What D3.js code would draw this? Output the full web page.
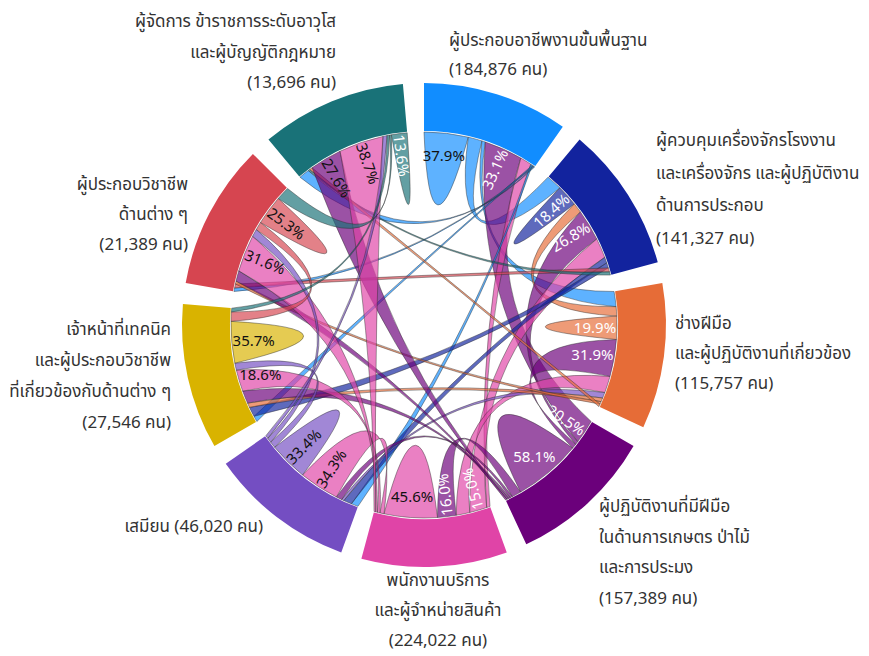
<!DOCTYPE html>
<html><head><meta charset="utf-8">
<script src="https://cdn.jsdelivr.net/npm/d3@7"></script>
<style>
body{margin:0;background:#fff;}
svg text{font-family:"Noto Sans Thai","Leelawadee UI","Tahoma","Noto Sans",sans-serif;}
</style></head><body>
<svg id="chart" width="869" height="656"></svg>
<script>
// ---------- DATA ----------
const groupNameLines = [
  ["ผู้ประกอบอาชีพงานขั้นพื้นฐาน"],
  ["ผู้ควบคุมเครื่องจักรโรงงาน", "และเครื่องจักร และผู้ปฏิบัติงาน", "ด้านการประกอบ"],
  ["ช่างฝีมือ", "และผู้ปฏิบัติงานที่เกี่ยวข้อง"],
  ["ผู้ปฏิบัติงานที่มีฝีมือ", "ในด้านการเกษตร ป่าไม้", "และการประมง"],
  ["พนักงานบริการ", "และผู้จำหน่ายสินค้า"],
  ["เสมียน"],
  ["เจ้าหน้าที่เทคนิค", "และผู้ประกอบวิชาชีพ", "ที่เกี่ยวข้องกับด้านต่าง ๆ"],
  ["ผู้ประกอบวิชาชีพ", "ด้านต่าง ๆ"],
  ["ผู้จัดการ ข้าราชการระดับอาวุโส", "และผู้บัญญัติกฎหมาย"]
];
const groupCounts = [184876, 141327, 115757, 157389, 224022, 46020, 27546, 21389, 13696];

// row-normalised shares (%) : order of columns = order of groups
const elementary    = [37.9, 12.0,  3.0, 33.1, 10.0,  1.5,  1.0,  0.8,  0.7];
const machineOps    = [13.5, 18.4,  8.5, 26.8, 17.0,  5.0,  4.5,  3.5,  2.8];
const craft         = [13.0,  8.0, 19.9, 31.9, 14.3,  5.0,  3.3,  2.3,  2.3];
const agriculture   = [20.5,  3.0,  4.0, 58.1,  8.0,  2.0,  1.5,  1.5,  1.4];
const service       = [ 3.0, 15.0, 11.7, 16.0, 45.6,  3.5,  2.2,  1.6,  1.4];
const clerks        = [ 6.0,  7.0,  2.0,  5.0, 34.3, 33.4,  5.5,  4.0,  2.8];
const technicians   = [ 5.0,  8.5,  4.0, 11.0, 18.6,  6.0, 35.7,  8.0,  3.2];
const professionals = [ 3.0,  3.5,  2.5,  9.0, 31.6,  6.5,  7.0, 25.3, 11.6];
const managers      = [ 9.0,  1.5,  2.5, 27.6, 38.7,  3.5,  2.0,  1.6, 13.6];
const matrix = [elementary, machineOps, craft, agriculture, service, clerks, technicians, professionals, managers];

// cells whose share is printed
const labeledCells = [[8,8],[8,4],[8,3],[0,0],[0,3],[1,1],[1,3],[2,2],[2,3],
                      [3,0],[3,3],[4,4],[4,3],[4,1],[5,5],[5,4],[6,6],[6,4],[7,7],[7,4]];

// ---------- STYLE / LAYOUT ----------
const groupColors = ["#118DFF","#12239E","#E66C37","#6B007B","#E044A7","#744EC2","#D9B300","#D64550","#197278"];
const whiteText = new Set(["8-8","0-3","1-1","1-3","2-2","2-3","3-0","3-3","4-3","4-1"]);
const labelLayout = [
  {x:449, y:41,  lh:29, anchor:"start"},
  {x:656, y:141, lh:32.5, anchor:"start"},
  {x:675, y:324, lh:30, anchor:"start"},
  {x:599, y:507, lh:30.5, anchor:"start"},
  {x:438, y:581, lh:30, anchor:"middle"},
  {x:263, y:527, lh:30, anchor:"end", inline:true},
  {x:171, y:330, lh:31, anchor:"end"},
  {x:188, y:185, lh:30, anchor:"end"},
  {x:336, y:22,  lh:30.5, anchor:"end"}
];
const cx = 424, cy = 325, outerR = 242, innerR = 194, ribR = 193, ctrlR = 50;
const pad = 5 * Math.PI / 180;

const svg = d3.select("#chart");
const g = svg.append("g").attr("transform", `translate(${cx},${cy})`);

const chords = d3.chord().padAngle(pad)(matrix);

function pt(a, r){ return [r*Math.sin(a), -r*Math.cos(a)]; }
function ctrl(a0, a1){
  let d = a1 - a0;
  while (d > Math.PI) d -= 2*Math.PI;
  while (d < -Math.PI) d += 2*Math.PI;
  return pt(a0 + d/2, ctrlR);
}
function ribbonPath(ch){
  const s = ch.source, t = ch.target, p = d3.path();
  const s0 = pt(s.startAngle, ribR);
  p.moveTo(s0[0], s0[1]);
  p.arc(0, 0, ribR, s.startAngle - Math.PI/2, s.endAngle - Math.PI/2);
  if (s.index === t.index) {
    const c = ctrl(s.endAngle, s.startAngle);
    p.quadraticCurveTo(c[0], c[1], s0[0], s0[1]);
  } else {
    const t0 = pt(t.startAngle, ribR);
    let c = ctrl(s.endAngle, t.startAngle);
    p.quadraticCurveTo(c[0], c[1], t0[0], t0[1]);
    p.arc(0, 0, ribR, t.startAngle - Math.PI/2, t.endAngle - Math.PI/2);
    c = ctrl(t.endAngle, s.startAngle);
    p.quadraticCurveTo(c[0], c[1], s0[0], s0[1]);
  }
  p.closePath();
  return p.toString();
}

// ribbons
g.append("g").selectAll("path").data(chords).join("path")
  .attr("d", ribbonPath)
  .attr("fill", d => groupColors[d.target.index])
  .attr("fill-opacity", 0.68)
  .attr("stroke", "#2b2b2b")
  .attr("stroke-opacity", 0.55)
  .attr("stroke-width", 0.8);

// group arcs
const arc = d3.arc().innerRadius(innerR).outerRadius(outerR);
g.append("g").selectAll("path").data(chords.groups).join("path")
  .attr("d", arc)
  .attr("fill", d => groupColors[d.index]);

// subgroup lookup: source end belongs to (source.index -> target.index)
const sub = {};
chords.forEach(c => {
  sub[c.source.index + "-" + c.target.index] = c.source;
  sub[c.target.index + "-" + c.source.index] = c.target;
});
const fmt = d3.format(".1f");
const pg = g.append("g");
labeledCells.forEach(([i, j]) => {
  const sg = sub[i + "-" + j];
  if (!sg) return;
  const a = (sg.startAngle + sg.endAngle) / 2;
  const deg = a * 180 / Math.PI;
  const [x, y] = pt(a, 171);
  let rot;
  if (Math.abs(Math.sin(a)) > 0.95 || (i === j && matrix[i][j] > 35)) rot = 0;
  else { rot = deg - 90; if (deg > 155) rot -= 180; }
  pg.append("text")
    .attr("transform", `translate(${x},${y}) rotate(${rot})`)
    .attr("text-anchor", "middle")
    .attr("dominant-baseline", "central")
    .attr("font-size", 15)
    .style("font-family", '"Segoe UI","Noto Sans",sans-serif')
    .attr("fill", whiteText.has(i + "-" + j) ? "#fff" : "#111")
    .text(fmt(matrix[i][j]) + "%");
});

// group labels
const cfmt = d3.format(",");
groupNameLines.forEach((lines, i) => {
  const L = labelLayout[i];
  const countTxt = "(" + cfmt(groupCounts[i]) + " คน)";
  const all = L.inline ? [lines.join(" ") + " " + countTxt] : lines.concat([countTxt]);
  const t = svg.append("text")
    .attr("text-anchor", L.anchor)
    .attr("font-size", 17)
    .attr("fill", "#333");
  all.forEach((s, k) => {
    t.append("tspan").attr("x", L.x).attr("y", L.y + k * L.lh)
      .attr("dominant-baseline", "central").text(s);
  });
});
</script>
</body></html>
